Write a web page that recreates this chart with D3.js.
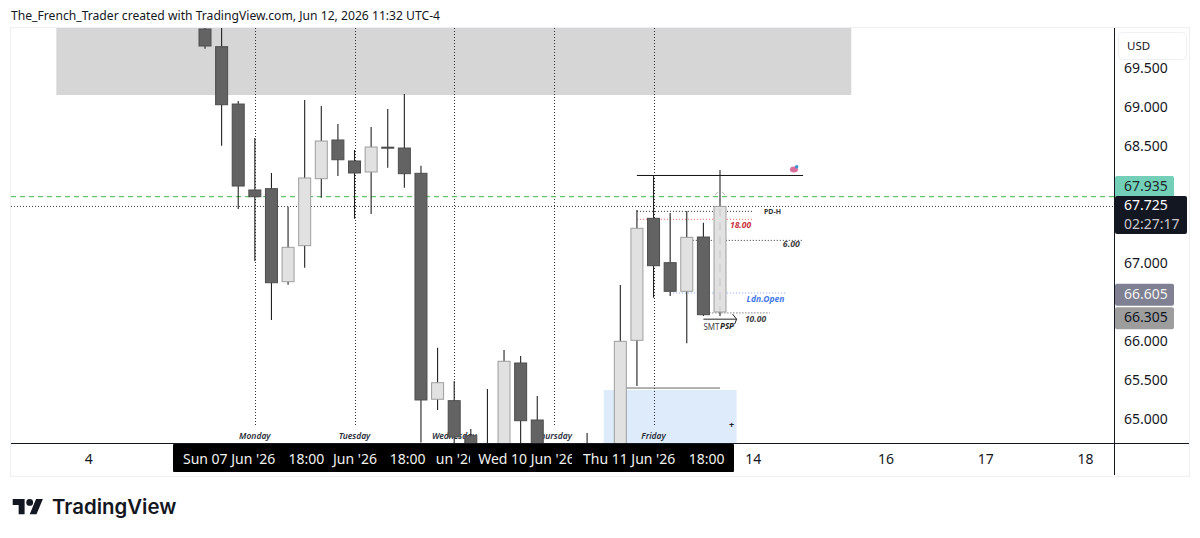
<!DOCTYPE html>
<html>
<head>
<meta charset="utf-8">
<script src="https://cdn.jsdelivr.net/npm/d3@7"></script>
<style>
  html, body { margin: 0; padding: 0; background: #fff; }
  svg { display: block; }
  text { font-family: "Noto Sans", sans-serif; }
</style>
</head>
<body>
<svg id="chart" width="1200" height="538"></svg>
<script>
// 4-hour candles, oldest first: [open, high, low, close]
const candles = [
  [70.000, 70.100, 69.747, 69.782],
  [69.773, 70.050, 68.504, 69.029],
  [69.038, 69.077, 67.692, 67.987],
  [67.936, 68.603, 67.026, 67.850],
  [67.953, 68.154, 66.269, 66.747],
  [66.760, 67.722, 66.722, 67.201],
  [67.222, 69.090, 66.940, 68.090],
  [68.081, 69.013, 67.837, 68.564],
  [68.577, 68.782, 68.115, 68.324],
  [68.308, 68.449, 67.568, 68.154],
  [68.167, 68.744, 67.628, 68.487],
  [68.485, 68.974, 68.222, 68.472],
  [68.474, 69.167, 67.965, 68.145],
  [68.150, 68.247, 64.700, 65.244],
  [65.253, 65.914, 65.115, 65.465],
  [65.235, 65.487, 64.600, 64.769],
  [64.786, 64.872, 64.200, 64.400],
  [64.300, 65.385, 64.100, 64.600],
  [64.600, 65.885, 64.500, 65.740],
  [65.718, 65.808, 64.600, 64.978],
  [64.987, 65.295, 64.400, 64.600],
  [64.550, 64.620, 64.300, 64.400],
  [64.400, 64.650, 64.250, 64.500],
  [64.500, 64.821, 64.300, 64.550],
  [64.550, 64.660, 64.400, 64.620],
  [64.620, 66.718, 64.500, 65.996],
  [66.009, 67.679, 65.423, 67.445],
  [67.573, 68.128, 66.555, 66.965],
  [67.004, 67.641, 66.577, 66.637],
  [66.637, 67.667, 65.971, 67.329],
  [67.333, 67.517, 66.321, 66.337],
  [66.372, 68.192, 66.321, 67.725]
];

const priceTicks = [69.5, 69, 68.5, 67, 66, 65.5, 65];
const dayBars = [3, 9, 15, 21, 27];
const dayNames = ["Monday", "Tuesday", "Wednesday", "Thursday", "Friday"];

// Session tick labels, bar position given in bar numbers
const plainDates = [["4", -7], ["14", 33], ["16", 41], ["17", 47], ["18", 53]];
const sessionDates = [
  ["Sun 07 Jun '26", 1.45], ["18:00", 6.1], ["Jun '26", 9.03], ["18:00", 12.2],
  ["un '26", 15.1], ["Wed 10 Jun '26", 19.35], ["Thu 11 Jun '26", 25.53], ["18:00", 30.2]
];

const lastPrice = 67.725;
const greenLevel = 67.85;
const countdown = "02:27:17";
const priceTags = [
  { text: "67.935", value: 67.935, nudge: -3, fill: "#73cfb8", color: "#1b2a2a" },
  { text: "66.605", value: 66.605, nudge: 1, fill: "#7f8192", color: "#f2f2f2" },
  { text: "66.305", value: 66.305, nudge: 1, fill: "#9d9d9d", color: "#131722" }
];

const supplyZone = { from: -8.95, to: 38.9, top: 70.2, bottom: 69.154 };
const demandZone = { from: 24, to: 32, top: 65.372, bottom: 64.5 };

// Marked levels: price, bar range, stroke
const levels = [
  { price: 67.662, from: 26, to: 33, color: "#333", dash: "1 2" },
  { price: 67.560, from: 26, to: 33, color: "#e66", dash: "1 2" },
  { price: 67.290, from: 29, to: 36, color: "#333", dash: "1 2" },
  { price: 66.615, from: 28, to: 35, color: "#7da2ee", dash: "1 2" },
  { price: 66.360, from: 30, to: 34, color: "#444", dash: "1 2" },
  { price: 68.122, from: 26, to: 36, color: "#111", dash: null },
  { price: 65.397, from: 25, to: 31, color: "#666", dash: null }
];

// Notes beside the levels: text, bar, price
const notes = [
  { text: "PD-H", bar: 33.65, price: 67.655, color: "#333", size: 7, weight: 700, style: "normal" },
  { text: "18.00", bar: 31.6, price: 67.475, color: "#c9303c", size: 8.5, weight: 700, style: "italic" },
  { text: "6.00", bar: 34.78, price: 67.24, color: "#444", size: 8.8, weight: 700, style: "italic" },
  { text: "Ldn.Open", bar: 32.6, price: 66.525, color: "#3f78e8", size: 8.5, weight: 700, style: "italic" },
  { text: "10.00", bar: 32.5, price: 66.27, color: "#444", size: 8.5, weight: 700, style: "italic" },
  { text: "SMT", bar: 30.0, price: 66.165, color: "#444", size: 8, weight: 400, style: "normal" },
  { text: "PSP", bar: 31.0, price: 66.185, color: "#222", size: 8, weight: 700, style: "italic" }
];

const plot = { left: 11, right: 1114, top: 28, bottom: 443.5 };
const barWidth = 12;

const x = d3.scaleLinear().domain([0, 31]).range([205, 720]);
const y = d3.scaleLinear().domain([69, 65]).range([107, 419]);

const svg = d3.select("#chart");
const defs = svg.append("defs");
const addClip = (id, x0, y0, w, h) =>
  defs.append("clipPath").attr("id", id).append("rect")
    .attr("x", x0).attr("y", y0).attr("width", w).attr("height", h);
addClip("plot-clip", plot.left, plot.top, plot.right - plot.left, plot.bottom - plot.top);
addClip("clip-tue", 400, 444, 70, 28);
addClip("clip-wed", 474, 444, 98, 28);

svg.append("text").attr("x", 11).attr("y", 20).attr("font-size", 12.15).attr("fill", "#131722")
  .text("The_French_Trader created with TradingView.com, Jun 12, 2026 11:32 UTC-4");

// Frame around the chart and its axes
svg.append("rect").attr("x", 10.5).attr("y", 27.5).attr("width", 1179).attr("height", 449)
  .attr("fill", "#fff").attr("stroke", "#eef0f4");

const chart = svg.append("g").attr("clip-path", "url(#plot-clip)");

chart.append("rect")
  .attr("x", x(supplyZone.from)).attr("width", x(supplyZone.to) - x(supplyZone.from))
  .attr("y", y(supplyZone.top)).attr("height", y(supplyZone.bottom) - y(supplyZone.top))
  .attr("fill", "#d6d6d6");
chart.append("rect")
  .attr("x", x(demandZone.from)).attr("width", x(demandZone.to) - x(demandZone.from))
  .attr("y", y(demandZone.top)).attr("height", y(demandZone.bottom) - y(demandZone.top))
  .attr("fill", "#deebfb");

// Session separators and weekday names
chart.selectAll(".day-line").data(dayBars).join("line").attr("class", "day-line")
  .attr("x1", d => Math.round(x(d)) + 0.5).attr("x2", d => Math.round(x(d)) + 0.5)
  .attr("y1", plot.top).attr("y2", 427)
  .attr("stroke", "#333").attr("stroke-dasharray", "1 2");
chart.selectAll(".day-name").data(dayNames).join("text").attr("class", "day-name")
  .attr("x", (d, i) => x(dayBars[i])).attr("y", 439)
  .attr("text-anchor", "middle").attr("font-size", 8.5).attr("font-style", "italic").attr("font-weight", 600)
  .attr("fill", "#2a2e39").text(d => d);

// Current price and green reference lines
chart.append("line").attr("x1", plot.left).attr("x2", plot.right)
  .attr("y1", y(greenLevel)).attr("y2", y(greenLevel))
  .attr("stroke", "#3dbb4a").attr("stroke-dasharray", "5 4");
chart.append("line").attr("x1", plot.left).attr("x2", plot.right)
  .attr("y1", y(lastPrice)).attr("y2", y(lastPrice))
  .attr("stroke", "#444").attr("stroke-dasharray", "1 2");

// Levels
chart.selectAll(".level").data(levels).join("line").attr("class", "level")
  .attr("x1", d => x(d.from)).attr("x2", d => x(d.to))
  .attr("y1", d => y(d.price)).attr("y2", d => y(d.price))
  .attr("stroke", d => d.color).attr("stroke-dasharray", d => d.dash);

// Candles
const isUp = d => d[3] >= d[0];
const candle = chart.selectAll(".candle").data(candles).join("g").attr("class", "candle");
candle.append("line")
  .attr("x1", (d, i) => x(i)).attr("x2", (d, i) => x(i))
  .attr("y1", d => y(d[1])).attr("y2", d => y(d[2]))
  .attr("stroke", "#222").attr("stroke-width", 1.1);
candle.append("rect")
  .attr("x", (d, i) => x(i) - barWidth / 2).attr("width", barWidth)
  .attr("y", d => y(Math.max(d[0], d[3])))
  .attr("height", d => Math.max(1, Math.abs(y(d[0]) - y(d[3]))))
  .attr("fill", d => isUp(d) ? "#e1e1e1" : "#636363")
  .attr("stroke", d => isUp(d) ? "#9e9e9e" : "#4d4d4d");

// Small markers near the latest bar
const lastBar = candles.length - 1;
chart.append("path")
  .attr("d", `M${x(lastBar) - 5},${y(67.872)}L${x(lastBar) - 2},${y(67.91)}M${x(lastBar) + 2},${y(67.91)}L${x(lastBar) + 5},${y(67.872)}`)
  .attr("fill", "none").attr("stroke", "#bbb");
chart.append("line").attr("x1", x(lastBar)).attr("x2", x(lastBar))
  .attr("y1", y(67.7)).attr("y2", y(66.39))
  .attr("stroke", "#c6c6c6").attr("stroke-dasharray", "8 6");

// SMT arrow
const arrowY = y(66.28);
const arrowEnd = x(32);
chart.append("path")
  .attr("d", `M${x(30)},${arrowY}H${arrowEnd}M${arrowEnd - 4},${arrowY - 5}L${arrowEnd},${arrowY}L${arrowEnd - 2},${arrowY + 5}`)
  .attr("fill", "none").attr("stroke", "#222");

chart.selectAll(".note").data(notes).join("text").attr("class", "note")
  .attr("x", d => x(d.bar)).attr("y", d => y(d.price)).attr("dominant-baseline", "middle")
  .attr("font-size", d => d.size).attr("font-weight", d => d.weight).attr("font-style", d => d.style)
  .attr("fill", d => d.color).text(d => d.text);

// Cursor mark in the lower zone, and the small emoji-like drawing
chart.append("text").attr("x", x(31.7)).attr("y", y(64.91)).attr("text-anchor", "middle")
  .attr("dominant-baseline", "middle").attr("font-size", 9).attr("font-weight", 700).attr("fill", "#222").text("+");
const iconBar = 35.45, iconPrice = 68.2;
chart.append("ellipse").attr("cx", x(iconBar)).attr("cy", y(iconPrice)).attr("rx", 4).attr("ry", 3)
  .attr("fill", "#d9709c");
chart.append("circle").attr("cx", x(iconBar) + 2.8).attr("cy", y(iconPrice) - 2.6).attr("r", 1.7).attr("fill", "#3d8fd8");

// Axis rules
svg.append("line").attr("x1", plot.left).attr("x2", 1189).attr("y1", 443.5).attr("y2", 443.5).attr("stroke", "#131722");
svg.append("line").attr("x1", 1114.5).attr("x2", 1114.5).attr("y1", 28).attr("y2", 475).attr("stroke", "#131722");

// Price axis
const priceAxis = d3.axisRight(y).tickValues(priceTicks).tickFormat(d3.format(".3f")).tickSize(0).tickPadding(0);
const priceG = svg.append("g").attr("transform", "translate(1124,0)").call(priceAxis);
priceG.select(".domain").remove();
priceG.selectAll("text").attr("font-size", 14).attr("fill", "#131722").style("font-family", '"Noto Sans", sans-serif');

// Currency box
svg.append("rect").attr("x", 1118.5).attr("y", 32.5).attr("width", 68).attr("height", 27).attr("rx", 4)
  .attr("fill", "#fff").attr("stroke", "#eef0f4");
svg.append("text").attr("x", 1127).attr("y", 50).attr("font-size", 11.5).attr("fill", "#131722").text("USD");

// Price tags on the axis
const tagG = svg.selectAll(".tag").data(priceTags).join("g").attr("class", "tag");
tagG.append("rect").attr("x", 1115).attr("width", 59).attr("height", 22).attr("rx", 2)
  .attr("y", d => y(d.value) + d.nudge - 11).attr("fill", d => d.fill);
tagG.append("text").attr("x", 1124).attr("y", d => y(d.value) + d.nudge).attr("dominant-baseline", "middle")
  .attr("font-size", 14).attr("fill", d => d.color).text(d => d.text);

svg.append("rect").attr("x", 1115).attr("y", 196).attr("width", 72).attr("height", 38).attr("rx", 2).attr("fill", "#131722");
svg.append("text").attr("x", 1124).attr("y", y(lastPrice)).attr("dominant-baseline", "middle")
  .attr("font-size", 14).attr("fill", "#fff").text(d3.format(".3f")(lastPrice));
svg.append("text").attr("x", 1124).attr("y", 225).attr("dominant-baseline", "middle")
  .attr("font-size", 14).attr("fill", "#c8c8cc").text(countdown);

// Time axis
const timeLabelY = 460;
svg.selectAll(".plain-date").data(plainDates).join("text").attr("class", "plain-date")
  .attr("x", d => x(d[1])).attr("y", timeLabelY).attr("dominant-baseline", "middle").attr("text-anchor", "middle")
  .attr("font-size", 14).attr("fill", "#131722").text(d => d[0]);
svg.append("rect").attr("x", 173).attr("y", 444).attr("width", 561).attr("height", 28).attr("rx", 1).attr("fill", "#000");
svg.selectAll(".session-date").data(sessionDates).join("text").attr("class", "session-date")
  .attr("x", d => x(d[1])).attr("y", timeLabelY).attr("dominant-baseline", "middle").attr("text-anchor", "middle")
  .attr("font-size", 14).attr("fill", "#f2f2f2")
  .attr("clip-path", d => d[0] === "un '26" ? "url(#clip-tue)" : d[0].startsWith("Wed") ? "url(#clip-wed)" : null)
  .text(d => d[0]);

// Brand line under the chart
const logo = svg.append("g").attr("transform", "translate(12.7,495.6) scale(0.85)").attr("fill", "#131722");
logo.append("path").attr("d", "M14 22H7V11H0V4h14v18zM28 22h-8l7.5-18h8L28 22z");
logo.append("circle").attr("cx", 20).attr("cy", 8).attr("r", 4);
svg.append("text").attr("x", 52).attr("y", 514).attr("font-size", 20.4).attr("font-weight", 600)
  .style("font-family", "Inter, sans-serif").attr("fill", "#131722").text("TradingView");
</script>
</body>
</html>
